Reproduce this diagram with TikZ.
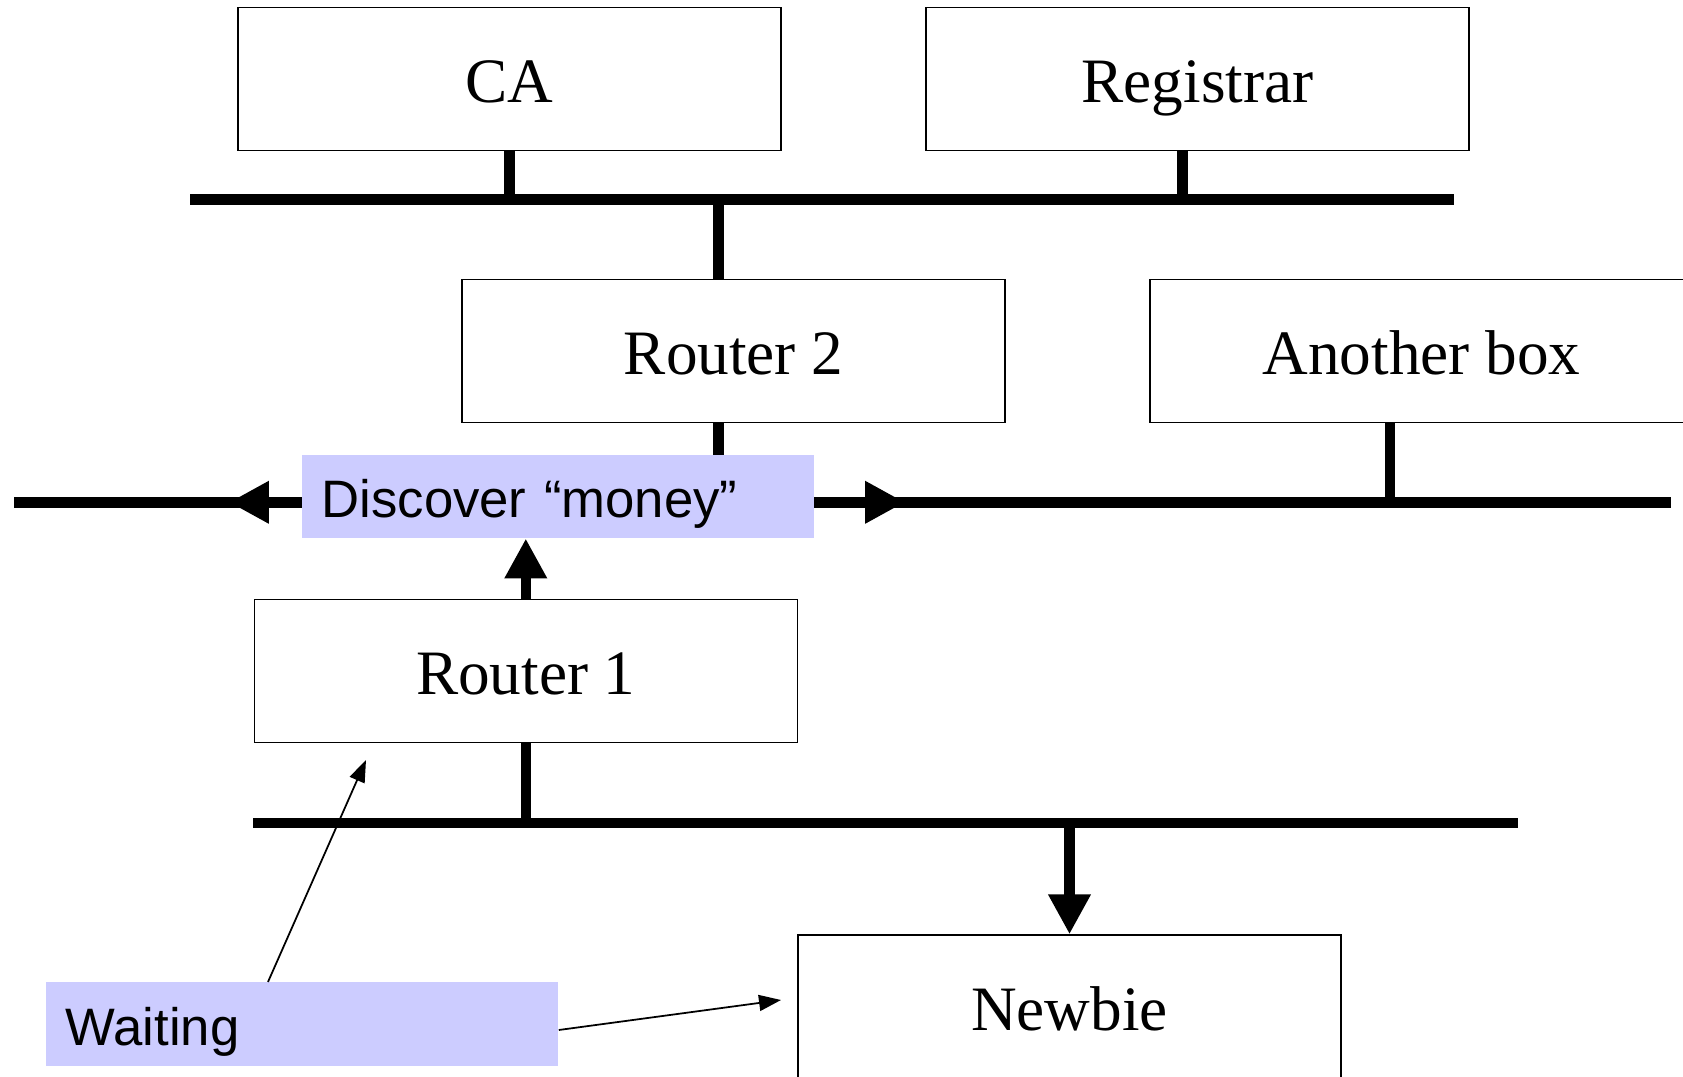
\documentclass[tikz,border=0pt]{standalone}
\usepackage{fontspec}
\setmainfont{Liberation Serif}
\setsansfont{Liberation Sans}
\usetikzlibrary{positioning,calc,arrows.meta}
\definecolor{notefill}{RGB}{204,204,255}

\begin{document}
\begin{tikzpicture}[x=0.02cm, y=-0.02cm,
    box/.style={draw, line width=0.8pt, minimum width=10.86cm, minimum height=2.86cm, text height=1.2cm, text depth=0.24cm, font=\fontsize{36}{40}\selectfont},
    note/.style={fill=notefill, text width=9.46cm, align=left, inner xsep=0.4cm, minimum height=1.67cm, text height=1.0cm, text depth=0.14cm, font=\sffamily\fontsize{30}{34}\selectfont},
    bus/.style={line width=6pt},
    tap/.style={line width=6pt},
    bigarrow/.style={line width=6pt, -{Triangle[length=0.8cm, width=0.8cm]}},
    thinarrow/.style={line width=1pt, -{Triangle[length=0.44cm, width=0.32cm]}}]

    \useasboundingbox (0,0) rectangle (1683,1077);

    % Bus lines
    \coordinate (bus1w) at (190,199.5);
    \coordinate (bus1e) at (1454,199.5);
    \coordinate (bus2w) at (14,502.3);
    \coordinate (bus2e) at (1671,502.3);
    \coordinate (bus3w) at (253,823);
    \coordinate (bus3e) at (1518,823);

    \draw[bus] (bus1w) -- (bus1e);
    \draw[bus] (bus2w) -- (bus2e);
    \draw[bus] (bus3w) -- (bus3e);

    % Boxes
    \node[box] (ca) at (509.5,78.75) {CA};
    \node[box] (reg) at (1197.5,78.75) {Registrar};
    \node[box] (r2) at (733.6,351) {Router 2};
    \node[box] (other) at (1421.5,351) {Another box};
    \node[box] (r1) at (525.8,671) {Router 1};
    \node[box] (newbie) at (1069.5,1006.5) {Newbie};

    % Taps onto the buses
    \coordinate (regtap) at ([xshift=-0.3cm]reg.south);
    \coordinate (r2tap) at ([xshift=-0.3cm]r2.north);
    \coordinate (othertap) at ([xshift=-0.63cm]other.south);

    \draw[tap] (ca.south) -- (ca.south |- bus1w);
    \draw[tap] (regtap) -- (regtap |- bus1w);
    \draw[tap] (r2tap |- bus1w) -- (r2tap);
    \draw[tap] (r2tap |- r2.south) -- (r2tap |- bus2w);
    \draw[tap] (othertap) -- (othertap |- bus2w);
    \draw[tap] (r1.south) -- (r1.south |- bus3w);

    % Labels
    \node[note] (disc) at (558,496.4) {Discover “money”};
    \node[note] (wait) at (302,1024) {Waiting};

    % Discover broadcast
    \coordinate (ltip) at (229,502.3);
    \coordinate (rtip) at (905,502.3);
    \draw[bigarrow] (disc.west |- bus2w) -- (ltip);
    \draw[bigarrow] (disc.east |- bus2w) -- (rtip);
    \draw[bigarrow] (r1.north) -- (r1.north |- disc.south);
    \draw[bigarrow] (newbie.north |- bus3w) -- (newbie.north);

    % Waiting pointers
    \coordinate (r1pt) at (366,760);
    \coordinate (nbpt) at (781,1000);
    \draw[thinarrow] ([xshift=-0.68cm]wait.north) -- (r1pt);
    \draw[thinarrow] ([yshift=-0.12cm]wait.east) -- (nbpt);

\end{tikzpicture}
\end{document}
